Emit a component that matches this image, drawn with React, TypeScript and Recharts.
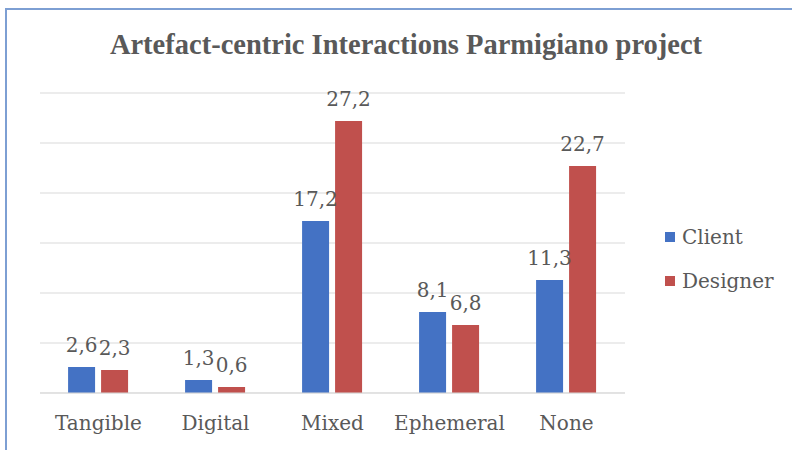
import { BarChart, Bar, XAxis, YAxis, CartesianGrid, LabelList } from 'recharts'

const categories = ['Tangible', 'Digital', 'Mixed', 'Ephemeral', 'None']
const client = [2.6, 1.3, 17.2, 8.1, 11.3]
const designer = [2.3, 0.6, 27.2, 6.8, 22.7]
const yTicks = [0, 5, 10, 15, 20, 25, 30]
const series = [
  { key: 'Client', color: '#4472C4' },
  { key: 'Designer', color: '#C0504D' },
]

const data = categories.map((name, i) => ({ name, Client: client[i], Designer: designer[i] }))

const FONT = '"DejaVu Serif", serif'
const TITLE_FONT = '"Liberation Serif", serif'
const TEXT = '#595959'

const fmt = (v: any) => String(v).replace('.', ',')

export default function App() {
  return (
    <div style={{ position: 'absolute', left: 0, top: 0, width: 792, height: 450, background: '#fff', overflow: 'hidden' }}>
      <div style={{ position: 'absolute', left: 5, top: 8, right: 0, bottom: 0, borderLeft: '2px solid #7d9fd3', borderTop: '2px solid #7d9fd3' }} />
      <div
        style={{
          position: 'absolute',
          left: 0,
          top: 29,
          width: 812,
          textAlign: 'center',
          fontFamily: TITLE_FONT,
          fontWeight: 'bold',
          fontSize: 28.5,
          color: TEXT,
        }}
      >
        Artefact-centric Interactions Parmigiano project
      </div>
      <div style={{ position: 'absolute', left: 665, top: 215, fontFamily: FONT, fontSize: 20, color: TEXT }}>
        {series.map((s) => (
          <div key={s.key} style={{ display: 'flex', alignItems: 'center', height: 44 }}>
            <span style={{ width: 10, height: 10, background: s.color, marginRight: 7, display: 'inline-block' }} />
            {s.key}
          </div>
        ))}
      </div>
      <div style={{ position: 'absolute', left: 0, top: 0 }}>
        <BarChart
          width={792}
          height={450}
          data={data}
          margin={{ top: 93, right: 167, bottom: 27, left: 40 }}
          barCategoryGap="24%"
          barGap={6}
        >
          <CartesianGrid vertical={false} stroke="#d9d9d9" />
          <YAxis hide domain={[0, 30]} ticks={yTicks} />
          <XAxis
            dataKey="name"
            height={30}
            axisLine={{ stroke: '#d9d9d9' }}
            tickLine={false}
            tick={{ fill: TEXT, fontSize: 20, fontFamily: FONT }}
            tickMargin={17}
          />
          {series.map((s) => (
            <Bar key={s.key} dataKey={s.key} fill={s.color} isAnimationActive={false}>
              <LabelList dataKey={s.key} position="top" offset={15} formatter={fmt} fill={TEXT} fontSize={20} fontFamily={FONT} />
            </Bar>
          ))}
        </BarChart>
      </div>
    </div>
  )
}
